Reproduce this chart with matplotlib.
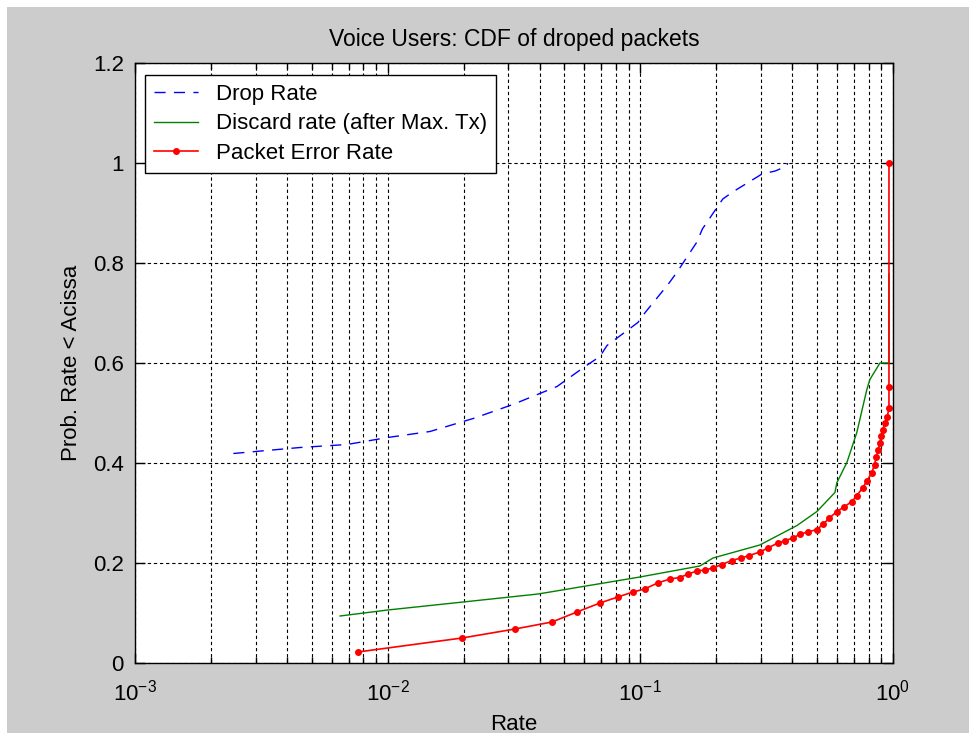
import numpy as np
import matplotlib
matplotlib.use("Agg")
import matplotlib.pyplot as plt
from matplotlib.patches import Rectangle
from matplotlib.ticker import LogLocator, FixedLocator, NullFormatter

plt.rcParams['font.family'] = ['Liberation Sans', 'DejaVu Sans']
plt.rcParams['mathtext.default'] = 'regular'

# values
dropX = [0.00245, 0.0045, 0.0069, 0.01, 0.0147, 0.0218, 0.0313, 0.0468, 0.0604,
         0.0692, 0.0738, 0.0978, 0.1045, 0.1287, 0.1398, 0.1675, 0.176, 0.212,
         0.232, 0.303, 0.342, 0.38, 0.383]
dropY = [0.419, 0.431, 0.437, 0.451, 0.463, 0.489, 0.517, 0.553, 0.593,
         0.613, 0.635, 0.681, 0.701, 0.757, 0.782, 0.842, 0.868, 0.928,
         0.942, 0.978, 0.984, 0.994, 1.0]

discardX = [0.00648, 0.01, 0.0199, 0.0394, 0.0996, 0.172, 0.194, 0.297, 0.417,
            0.5, 0.589, 0.6, 0.657, 0.719, 0.788, 0.81, 0.888, 0.964, 0.964]
discardY = [0.094, 0.106, 0.122, 0.138, 0.172, 0.194, 0.21, 0.236, 0.275,
            0.303, 0.341, 0.361, 0.401, 0.461, 0.547, 0.567, 0.6, 0.6, 0.778]

perX = [0.00762, 0.0197, 0.0319, 0.0447, 0.0561, 0.0692, 0.0815, 0.0935, 0.104,
        0.117, 0.131, 0.143, 0.155, 0.167, 0.18, 0.194, 0.21, 0.23, 0.25, 0.27,
        0.297, 0.32, 0.35, 0.375, 0.402, 0.43, 0.46, 0.5, 0.53, 0.56, 0.6,
        0.64, 0.687, 0.72, 0.76, 0.79, 0.825, 0.845, 0.86, 0.875, 0.888, 0.9,
        0.912, 0.93, 0.95, 0.964, 0.964, 0.964]
perY = [0.022, 0.05, 0.068, 0.082, 0.102, 0.12, 0.132, 0.142, 0.148,
        0.16, 0.168, 0.171, 0.178, 0.184, 0.186, 0.19, 0.197, 0.205, 0.21, 0.215,
        0.222, 0.23, 0.24, 0.245, 0.25, 0.258, 0.262, 0.267, 0.278, 0.29, 0.303,
        0.312, 0.323, 0.335, 0.351, 0.365, 0.381, 0.397, 0.413, 0.427, 0.441, 0.455,
        0.467, 0.48, 0.493, 0.511, 0.553, 1.0]

yTicks = [0, 0.2, 0.4, 0.6, 0.8, 1, 1.2]
yTickLabels = ['0', '0.2', '0.4', '0.6', '0.8', '1', '1.2']
xTicks = [1e-3, 1e-2, 1e-1, 1e0]
xTickLabels = ['$10^{-3}$', '$10^{-2}$', '$10^{-1}$', '$10^{0}$']

fig = plt.figure(figsize=(9.7, 7.33), dpi=100, facecolor='white')
# grey window area like the matlab figure
fig.patches.append(Rectangle((7 / 970, 0), 1, 1 - 7 / 733, transform=fig.transFigure,
                             facecolor='#cccccc', edgecolor='none', zorder=-10))

ax = fig.add_axes([135 / 970, 70 / 733, 758 / 970, 600 / 733])
ax.set_facecolor('white')

ax.plot(dropX, dropY, color='blue', lw=1.0, linestyle=(0, (8, 6)), label='Drop Rate')
ax.plot(discardX, discardY, color='#008000', lw=1.0, label='Discard rate (after Max. Tx)')
ax.plot(perX, perY, color='red', lw=1.2, marker='.', markersize=8, label='Packet Error Rate')

ax.set_xscale('log')
ax.set_xlim(1e-3, 1)
ax.set_ylim(0, 1.2)
ax.xaxis.set_major_locator(FixedLocator(xTicks))
ax.set_xticklabels(xTickLabels)
ax.xaxis.set_minor_locator(LogLocator(base=10, subs=np.arange(2, 10)))
ax.xaxis.set_minor_formatter(NullFormatter())
ax.set_yticks(yTicks)
ax.set_yticklabels(yTickLabels)

gridStyle = dict(color='black', linestyle=(0, (3, 2.5)), linewidth=0.8)
ax.grid(True, which='major', axis='both', **gridStyle)
ax.grid(True, which='minor', axis='x', **gridStyle)

ax.tick_params(which='both', direction='in', top=True, right=True, labelsize=16,
               colors='black', width=1)
ax.tick_params(which='major', length=7)
ax.tick_params(axis='y', which='major', pad=8)
ax.tick_params(axis='x', which='major', pad=12)
ax.tick_params(which='minor', length=4)
for sp in ax.spines.values():
    sp.set_linewidth(1.0)
    sp.set_color('black')

ax.set_title('Voice Users: CDF of droped packets', fontsize=16.5, pad=12)
ax.set_xlabel('Rate', fontsize=16, labelpad=6)
ax.set_ylabel('Prob. Rate < Acissa', fontsize=16, labelpad=8)

leg = ax.legend(loc='upper left', bbox_to_anchor=(0.013, 0.98), borderaxespad=0,
                fontsize=16, fancybox=False, framealpha=1, edgecolor='black',
                handlelength=2.0, borderpad=0.4, labelspacing=0.38, handletextpad=0.8)
leg.get_frame().set_linewidth(1.0)

fig.savefig('out.png', dpi=100, facecolor=fig.get_facecolor())
